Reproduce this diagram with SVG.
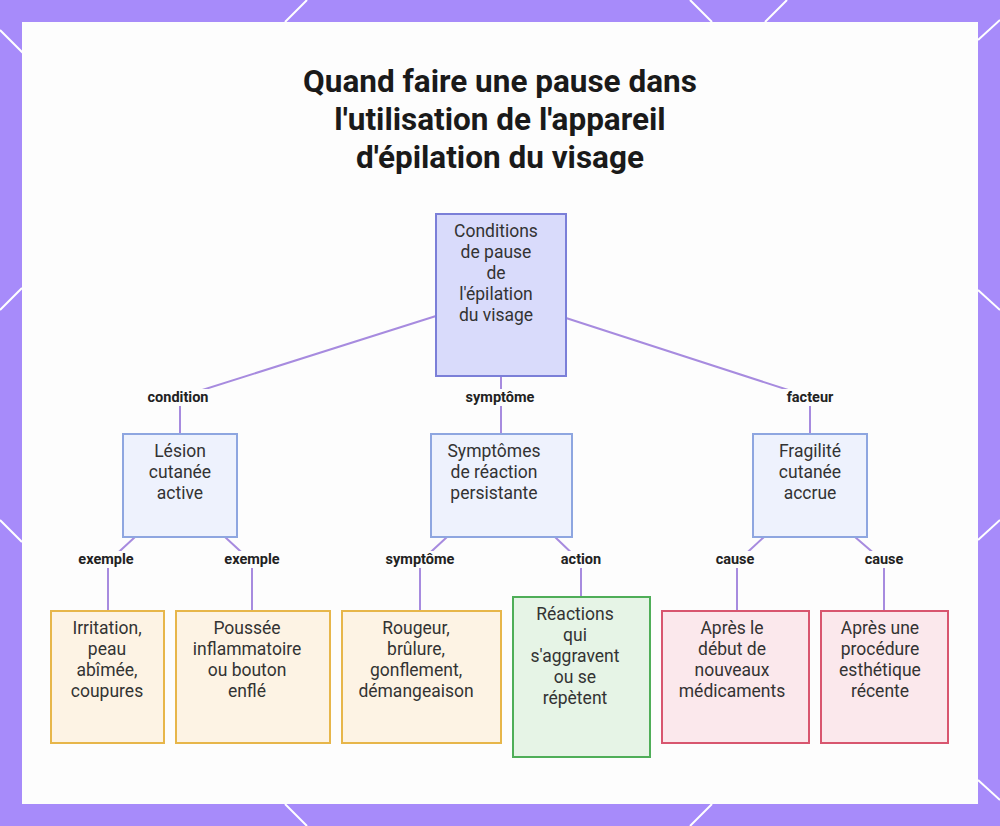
<svg xmlns="http://www.w3.org/2000/svg" width="1000" height="826" viewBox="0 0 1000 826">
<style>
.t{font-family:Roboto,"Liberation Sans",sans-serif;font-size:17.5px;fill:#333;text-anchor:middle}
.title{font-family:Roboto,"Liberation Sans",sans-serif;font-size:31.5px;font-weight:bold;fill:#1a1a1a;text-anchor:middle}
.l{font-family:Roboto,"Liberation Sans",sans-serif;font-size:14.5px;font-weight:bold;fill:#222;text-anchor:middle}
.c{fill:none;stroke:#a78bdf;stroke-width:2}
.root{fill:#d9dbfb;stroke:#7b7fd8;stroke-width:2}
.mid{fill:#eef2fd;stroke:#8ea6e0;stroke-width:2}
.o{fill:#fdf3e4;stroke:#e7b64a;stroke-width:2}
.g{fill:#e6f4e6;stroke:#4fae58;stroke-width:2}
.r{fill:#fbe8ec;stroke:#d8566f;stroke-width:2}
.dl{stroke:#fff;stroke-width:2}
</style>
<rect width="1000" height="826" fill="#a78bfa"/>
<g class="dl">
<line x1="0" y1="30" x2="25" y2="55"/><line x1="285" y1="22" x2="307" y2="0"/>
<line x1="285" y1="804" x2="307" y2="826"/><line x1="690" y1="0" x2="712" y2="22"/>
<line x1="690" y1="826" x2="712" y2="804"/><line x1="765" y1="22" x2="787" y2="0"/>
<line x1="0" y1="520" x2="22" y2="542"/><line x1="0" y1="310" x2="22" y2="288"/>
<line x1="978" y1="290" x2="1000" y2="310"/><line x1="978" y1="540" x2="1000" y2="520"/>
<line x1="978" y1="40" x2="1000" y2="20"/><line x1="978" y1="780" x2="1000" y2="800"/>
</g>
<rect x="22" y="22" width="956" height="782" fill="#fdfdfd"/>
<text class="title"><tspan x="500" y="92">Quand faire une pause dans</tspan><tspan x="500" y="130">l'utilisation de l'appareil</tspan><tspan x="500" y="168">d'épilation du visage</tspan></text>
<g id="connectors">
<polyline class="c" points="436,316 180,397 180,434"/>
<polyline class="c" points="501,376 501,434"/>
<polyline class="c" points="566,318 810,397 810,434"/>
<polyline class="c" points="135,537 108,562 108,611"/>
<polyline class="c" points="225,537 252,562 252,611"/>
<polyline class="c" points="447,537 420,562 420,611"/>
<polyline class="c" points="555,537 581,562 581,597"/>
<polyline class="c" points="764,537 737,562 737,611"/>
<polyline class="c" points="855,537 884,562 884,611"/>
<g>
<rect x="142" y="389" width="76" height="17" fill="#fdfdfd"/><text class="l" x="178" y="402">condition</text>
<rect x="460" y="389" width="82" height="17" fill="#fdfdfd"/><text class="l" x="500" y="402">symptôme</text>
<rect x="782" y="389" width="56" height="17" fill="#fdfdfd"/><text class="l" x="810" y="402">facteur</text>
<rect x="76" y="551" width="62" height="17" fill="#fdfdfd"/><text class="l" x="106" y="564">exemple</text>
<rect x="221" y="551" width="62" height="17" fill="#fdfdfd"/><text class="l" x="252" y="564">exemple</text>
<rect x="380" y="551" width="80" height="17" fill="#fdfdfd"/><text class="l" x="420" y="564">symptôme</text>
<rect x="557" y="551" width="48" height="17" fill="#fdfdfd"/><text class="l" x="581" y="564">action</text>
<rect x="712" y="551" width="46" height="17" fill="#fdfdfd"/><text class="l" x="735" y="564">cause</text>
<rect x="861" y="551" width="46" height="17" fill="#fdfdfd"/><text class="l" x="884" y="564">cause</text>
</g>
</g>
<g id="root"><rect class="root" x="436" y="214" width="130" height="162"/>
<text class="t"><tspan x="496" y="237">Conditions</tspan><tspan x="496" y="258">de pause</tspan><tspan x="496" y="279">de</tspan><tspan x="496" y="300">l'épilation</tspan><tspan x="496" y="321">du visage</tspan></text></g>
<g id="lesion"><rect class="mid" x="123" y="434" width="114" height="103"/>
<text class="t"><tspan x="180" y="457">Lésion</tspan><tspan x="180" y="478">cutanée</tspan><tspan x="180" y="499">active</tspan></text></g>
<g id="symptomes"><rect class="mid" x="431" y="434" width="141" height="103"/>
<text class="t"><tspan x="494" y="457">Symptômes</tspan><tspan x="494" y="478">de réaction</tspan><tspan x="494" y="499">persistante</tspan></text></g>
<g id="fragilite"><rect class="mid" x="753" y="434" width="114" height="103"/>
<text class="t"><tspan x="810" y="457">Fragilité</tspan><tspan x="810" y="478">cutanée</tspan><tspan x="810" y="499">accrue</tspan></text></g>
<g id="irritation"><rect class="o" x="51" y="611" width="113" height="132"/>
<text class="t"><tspan x="107" y="634">Irritation,</tspan><tspan x="107" y="655">peau</tspan><tspan x="107" y="676">abîmée,</tspan><tspan x="107" y="697">coupures</tspan></text></g>
<g id="poussee"><rect class="o" x="176" y="611" width="154" height="132"/>
<text class="t"><tspan x="247" y="634">Poussée</tspan><tspan x="247" y="655">inflammatoire</tspan><tspan x="247" y="676">ou bouton</tspan><tspan x="247" y="697">enflé</tspan></text></g>
<g id="rougeur"><rect class="o" x="342" y="611" width="159" height="132"/>
<text class="t"><tspan x="416" y="634">Rougeur,</tspan><tspan x="416" y="655">brûlure,</tspan><tspan x="416" y="676">gonflement,</tspan><tspan x="416" y="697">démangeaison</tspan></text></g>
<g id="reactions"><rect class="g" x="513" y="597" width="137" height="160"/>
<text class="t"><tspan x="575" y="620">Réactions</tspan><tspan x="575" y="641">qui</tspan><tspan x="575" y="662">s'aggravent</tspan><tspan x="575" y="683">ou se</tspan><tspan x="575" y="704">répètent</tspan></text></g>
<g id="medicaments"><rect class="r" x="662" y="611" width="147" height="132"/>
<text class="t"><tspan x="732" y="634">Après le</tspan><tspan x="732" y="655">début de</tspan><tspan x="732" y="676">nouveaux</tspan><tspan x="732" y="697">médicaments</tspan></text></g>
<g id="procedure"><rect class="r" x="821" y="611" width="127" height="132"/>
<text class="t"><tspan x="880" y="634">Après une</tspan><tspan x="880" y="655">procédure</tspan><tspan x="880" y="676">esthétique</tspan><tspan x="880" y="697">récente</tspan></text></g>
</svg>
